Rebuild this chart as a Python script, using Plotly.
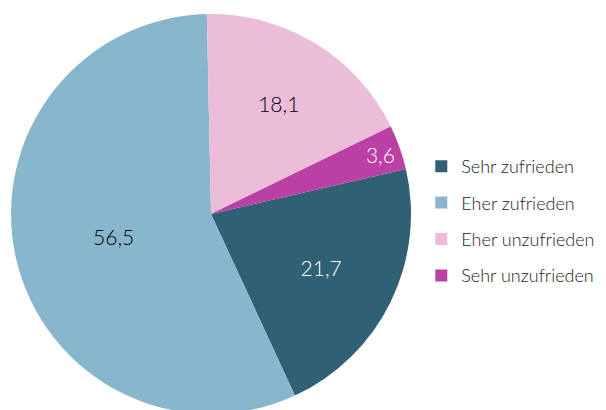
import plotly.graph_objects as go

labels = ["Sehr zufrieden", "Eher zufrieden", "Eher unzufrieden", "Sehr unzufrieden"]
values = [21.7, 56.5, 18.1, 3.6]
value_text = ["21,7", "56,5", "18,1", "3,6"]
colors = ["#2f6073", "#88b6cc", "#ebbdd9", "#bb40a5"]
text_colors = ["#ffffff", "#000000", "#000000", "#ffffff"]

font_family = "Lato"

fig = go.Figure()
fig.add_trace(
    go.Pie(
        labels=labels,
        values=values,
        text=value_text,
        textinfo="text",
        textposition="inside",
        insidetextorientation="horizontal",
        insidetextfont=dict(family=font_family, size=21, color=text_colors, weight=300),
        marker=dict(colors=colors, line=dict(width=0)),
        sort=False,
        direction="clockwise",
        rotation=77,
        domain=dict(x=[0.005, 0.665], y=[0, 1]),
        hoverinfo="skip",
        showlegend=False,
    )
)

# legend entries (one group each so the gap between them can be set)
for lab, clr in zip(labels, colors):
    fig.add_trace(
        go.Scatter(
            x=[None],
            y=[None],
            mode="markers",
            name=lab,
            legendgroup=lab,
            marker=dict(symbol="square", size=12, color=clr),
            hoverinfo="skip",
        )
    )

fig.update_xaxes(visible=False)
fig.update_yaxes(visible=False)

fig.update_layout(
    width=606,
    height=410,
    margin=dict(l=0, r=0, t=6, b=4),
    paper_bgcolor="white",
    plot_bgcolor="white",
    font=dict(family=font_family, color="#222222", weight=300),
    showlegend=True,
    legend=dict(
        x=0.682,
        y=0.4825,
        xanchor="left",
        yanchor="middle",
        traceorder="grouped",
        tracegroupgap=10,
        font=dict(family=font_family, size=18, color="#222222", weight=300),
    ),
)

fig.write_html("out.html")
